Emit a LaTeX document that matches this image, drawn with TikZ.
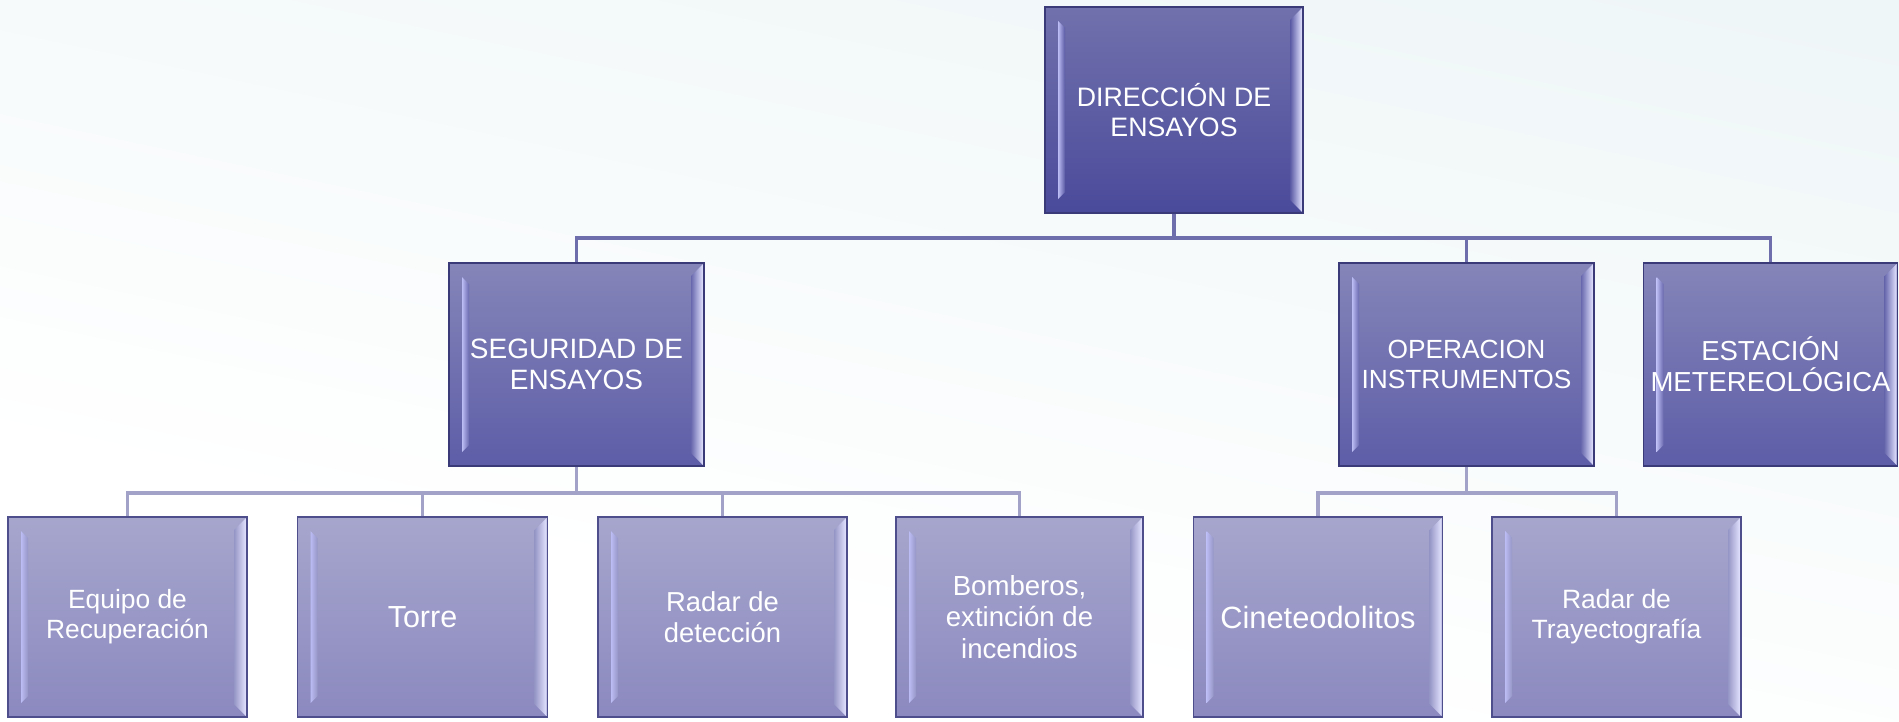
\documentclass[tikz,border=0pt]{standalone}
\usepackage{fontspec}
\setmainfont{Liberation Sans}
\usetikzlibrary{calc}
\definecolor{bgtop}{HTML}{E2EFF1}
\definecolor{dtop}{HTML}{7171AD}
\definecolor{dbot}{HTML}{4A4A9B}
\definecolor{dmid}{HTML}{5858A3}
\definecolor{mtop}{HTML}{8585B9}
\definecolor{mbot}{HTML}{5D5DA8}
\definecolor{mmid}{HTML}{6868AE}
\definecolor{ltop}{HTML}{A6A6CD}
\definecolor{lbot}{HTML}{8B89BF}
\definecolor{lmid}{HTML}{9696C6}
\definecolor{bordD}{HTML}{3A3A78}
\definecolor{bordL}{HTML}{4E4E8C}
\definecolor{hlL}{HTML}{BCBCF4}
\definecolor{hlR}{HTML}{E2E2FF}
\definecolor{connD}{HTML}{6E6EAC}
\definecolor{connL}{HTML}{A2A2C9}
\pgfdeclareverticalshading{bgshade}{100bp}{color(0bp)=(white); color(38bp)=(white); color(100bp)=(bgtop)}
\newcommand\mybevel[1]{%
  \coordinate (pNW) at (path picture bounding box.north west);
  \coordinate (pSE) at (path picture bounding box.south east);
  \shade[left color=hlL, right color=#1] let \p1=(pNW), \p2=(pSE) in
    (\x1+13pt,\y1-14pt) -- (\x1+20pt,\y1-21pt) -- (\x1+20pt,\y2+21pt) -- (\x1+13pt,\y2+14pt) -- cycle;
  \shade[left color=#1, right color=hlR] let \p1=(pNW), \p2=(pSE) in
    (\x2-1pt,\y1-1pt) -- (\x2-13pt,\y1-13pt) -- (\x2-13pt,\y2+13pt) -- (\x2-1pt,\y2+1pt) -- cycle;
}
\newcommand\fs[1]{\fontsize{#1}{\fpeval{1.13*#1}}\selectfont}
\tikzset{
  orgbase/.style={rectangle, inner sep=0pt, align=center, text=white,
    font=\fs{26}, line width=1.5pt},
  topbox/.style={orgbase, draw=bordD, top color=dtop, bottom color=dbot,
    path picture={\mybevel{dmid}}},
  midbox/.style={orgbase, draw=bordD, top color=mtop, bottom color=mbot,
    path picture={\mybevel{mmid}}},
  lowbox/.style={orgbase, draw=bordL, top color=ltop, bottom color=lbot,
    path picture={\mybevel{lmid}}},
  sz/.style 2 args={minimum width=#1, minimum height=#2},
  connup/.style={draw=connD, line width=3.5pt},
  connlow/.style={draw=connL, line width=3.5pt},
}
\begin{document}
\begin{tikzpicture}[x=1pt,y=-1pt]
\useasboundingbox (0,0) rectangle (1899,721);
\shade[shading=bgshade, shading angle=-12] (-120,-120) rectangle (2019,841);

\node[topbox, sz={258}{206}, font=\fs{26.7}] (dir) at (1174,110) {DIRECCIÓN DE\\ENSAYOS};
\node[midbox, sz={255}{203}, font=\fs{28}] (seg) at (576.5,364.5) {SEGURIDAD DE\\ENSAYOS};
\node[midbox, sz={255}{203}, font=\fs{26.3}] (ope) at (1466.5,364.5) {OPERACION\\INSTRUMENTOS};
\node[midbox, sz={254}{203}, font=\fs{27.5}] (est) at (1770.5,364.5) {ESTACIÓN\\METEREOLÓGICA};

\node[lowbox, sz={239}{200}, font=\fs{26.4}] (eq)  at (127.5,617) {Equipo de\\Recuperación};
\node[lowbox, sz={250}{200}, font=\fs{30.5}] (tor) at (422.5,617) {Torre};
\node[lowbox, sz={249}{200}, font=\fs{27.4}] (rad) at (722.5,617) {Radar de\\detección};
\node[lowbox, sz={247}{200}, font=\fs{27.6}] (bom) at (1019.5,617) {Bomberos,\\extinción de\\incendios};
\node[lowbox, sz={249}{200}, font=\fs{30.8}] (cin) at (1318,617) {Cineteodolitos};
\node[lowbox, sz={249}{200}, font=\fs{26.5}] (tra) at (1616.5,617) {Radar de\\Trayectografía};

\path (dir.south) ++(0,24) coordinate (bus1);
\path (seg.south) ++(0,26) coordinate (bus2);
\path (ope.south) ++(0,26) coordinate (bus3);

\draw[connup] (dir.south) -- (bus1);
\draw[connup] (bus1) -| (seg.north);
\draw[connup] (bus1) -| (ope.north);
\draw[connup] (bus1) -| (est.north);

\draw[connlow] (seg.south) -- (bus2);
\draw[connlow] (bus2) -| (eq.north);
\draw[connlow] (bus2) -| (tor.north);
\draw[connlow] (bus2) -| (rad.north);
\draw[connlow] (bus2) -| (bom.north);

\draw[connlow] (ope.south) -- (bus3);
\draw[connlow] (bus3) -| (cin.north);
\draw[connlow] (bus3) -| (tra.north);
\end{tikzpicture}
\end{document}
